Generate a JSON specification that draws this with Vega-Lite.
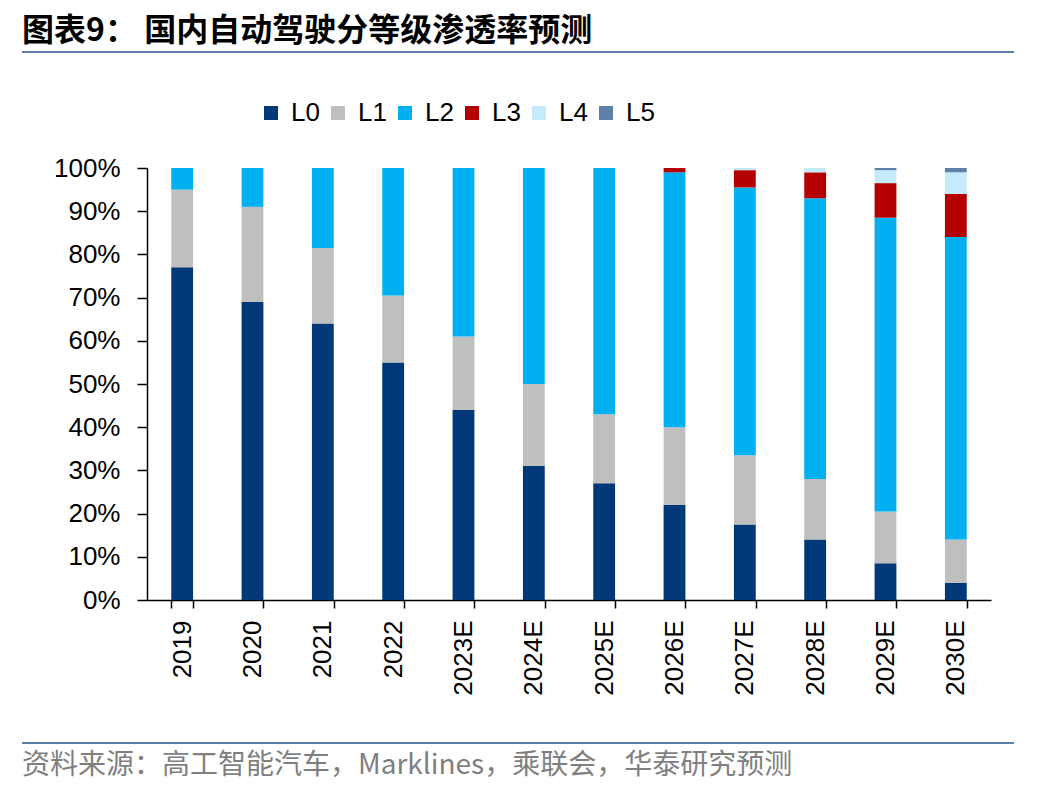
{
  "$schema": "https://vega.github.io/schema/vega-lite/v6.json",
  "padding": {"left": 9, "top": 14, "right": 10, "bottom": 5},
  "spacing": 10,
  "resolve": {"legend": {"color": "independent"}},
  "config": {"font": "Liberation Sans", "view": {"stroke": null}},
  "vconcat": [
    {
      "width": 992,
      "height": 37,
      "view": {"fill": null, "stroke": "#5B7FA8", "strokeWidth": 2, "strokeDash": [992, 5000]},
      "title": {"text": "图表9：  国内自动驾驶分等级渗透率预测", "anchor": "start", "font": "Noto Sans CJK SC", "fontSize": 32, "fontWeight": "bold", "color": "#000000", "offset": 4},
      "data": {"values": []},
      "mark": "rule",
      "encoding": {}
    },
    {
      "width": 969,
      "height": 432,
      "data": {
        "values": [
          {"Year": "2019", "Level": "L0", "Value": 0.77},
          {"Year": "2019", "Level": "L1", "Value": 0.18},
          {"Year": "2019", "Level": "L2", "Value": 0.05},
          {"Year": "2020", "Level": "L0", "Value": 0.69},
          {"Year": "2020", "Level": "L1", "Value": 0.22},
          {"Year": "2020", "Level": "L2", "Value": 0.09},
          {"Year": "2021", "Level": "L0", "Value": 0.64},
          {"Year": "2021", "Level": "L1", "Value": 0.175},
          {"Year": "2021", "Level": "L2", "Value": 0.185},
          {"Year": "2022", "Level": "L0", "Value": 0.55},
          {"Year": "2022", "Level": "L1", "Value": 0.155},
          {"Year": "2022", "Level": "L2", "Value": 0.295},
          {"Year": "2023E", "Level": "L0", "Value": 0.44},
          {"Year": "2023E", "Level": "L1", "Value": 0.17},
          {"Year": "2023E", "Level": "L2", "Value": 0.39},
          {"Year": "2024E", "Level": "L0", "Value": 0.31},
          {"Year": "2024E", "Level": "L1", "Value": 0.19},
          {"Year": "2024E", "Level": "L2", "Value": 0.50},
          {"Year": "2025E", "Level": "L0", "Value": 0.27},
          {"Year": "2025E", "Level": "L1", "Value": 0.16},
          {"Year": "2025E", "Level": "L2", "Value": 0.57},
          {"Year": "2026E", "Level": "L0", "Value": 0.22},
          {"Year": "2026E", "Level": "L1", "Value": 0.18},
          {"Year": "2026E", "Level": "L2", "Value": 0.59},
          {"Year": "2026E", "Level": "L3", "Value": 0.01},
          {"Year": "2027E", "Level": "L0", "Value": 0.175},
          {"Year": "2027E", "Level": "L1", "Value": 0.16},
          {"Year": "2027E", "Level": "L2", "Value": 0.62},
          {"Year": "2027E", "Level": "L3", "Value": 0.04},
          {"Year": "2027E", "Level": "L4", "Value": 0.005},
          {"Year": "2028E", "Level": "L0", "Value": 0.14},
          {"Year": "2028E", "Level": "L1", "Value": 0.14},
          {"Year": "2028E", "Level": "L2", "Value": 0.65},
          {"Year": "2028E", "Level": "L3", "Value": 0.06},
          {"Year": "2028E", "Level": "L4", "Value": 0.01},
          {"Year": "2029E", "Level": "L0", "Value": 0.085},
          {"Year": "2029E", "Level": "L1", "Value": 0.12},
          {"Year": "2029E", "Level": "L2", "Value": 0.68},
          {"Year": "2029E", "Level": "L3", "Value": 0.08},
          {"Year": "2029E", "Level": "L4", "Value": 0.03},
          {"Year": "2029E", "Level": "L5", "Value": 0.005},
          {"Year": "2030E", "Level": "L0", "Value": 0.04},
          {"Year": "2030E", "Level": "L1", "Value": 0.10},
          {"Year": "2030E", "Level": "L2", "Value": 0.70},
          {"Year": "2030E", "Level": "L3", "Value": 0.10},
          {"Year": "2030E", "Level": "L4", "Value": 0.05},
          {"Year": "2030E", "Level": "L5", "Value": 0.01}
        ]
      },
      "mark": {"type": "bar"},
      "encoding": {
        "x": {
          "field": "Year", "type": "nominal", "sort": null,
          "scale": {"range": [125, 969], "paddingInner": 0.69, "paddingOuter": 0.345},
          "axis": {"title": null, "labelAngle": -90, "labelAlign": "right", "labelBaseline": "middle", "labelFontSize": 26, "labelColor": "#000000", "tickBand": "extent", "tickSize": 8, "tickColor": "#000000", "domainColor": "#000000", "domainWidth": 1.5, "tickWidth": 1.5, "labelPadding": 12}
        },
        "y": {
          "field": "Value", "type": "quantitative", "aggregate": "sum", "stack": "zero",
          "scale": {"domain": [0, 1], "nice": false},
          "axis": {"title": null, "offset": -125, "values": [0, 0.1, 0.2, 0.3, 0.4, 0.5, 0.6, 0.7, 0.8, 0.9, 1], "format": ".0%", "labelFontSize": 26, "labelColor": "#000000", "tickSize": 10, "tickColor": "#000000", "tickWidth": 1.5, "domainColor": "#000000", "domainWidth": 1.5, "grid": false, "labelPadding": 17}
        },
        "order": {"field": "Level", "sort": "ascending"},
        "color": {
          "field": "Level", "type": "nominal",
          "scale": {"domain": ["L0", "L1", "L2", "L3", "L4", "L5"], "range": ["#003878", "#BFBFBF", "#00B0F0", "#B40000", "#C5EBFA", "#5E80A8"]},
          "legend": {"title": null, "orient": "none", "legendX": 236, "legendY": -68, "padding": 0, "direction": "horizontal", "symbolType": "square", "symbolSize": 196, "symbolStrokeWidth": 0, "labelFontSize": 26, "labelColor": "#000000", "labelOffset": 7, "columnPadding": 5}
        }
      }
    },
    {
      "width": 992,
      "height": 36,
      "view": {"fill": null, "stroke": "#5B7FA8", "strokeWidth": 2, "strokeDash": [0, 1028, 992, 5000]},
      "title": {"text": "资料来源：高工智能汽车，Marklines，乘联会，华泰研究预测", "orient": "bottom", "anchor": "start", "font": "Noto Sans CJK SC", "fontSize": 28, "fontWeight": "normal", "color": "#7F7F7F", "offset": 9},
      "data": {"values": []},
      "mark": "rule",
      "encoding": {}
    }
  ]
}
